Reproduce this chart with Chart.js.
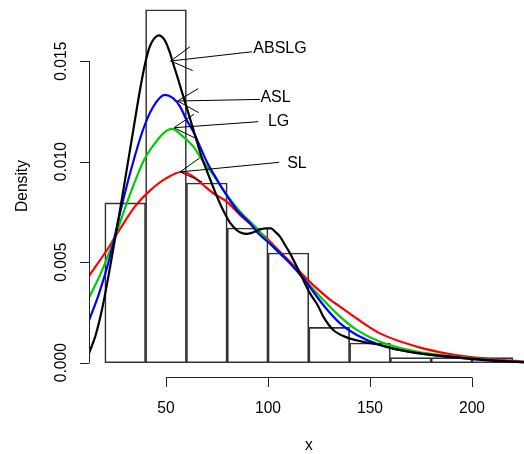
<!DOCTYPE html>
<html>
<head>
<meta charset="utf-8">
<script src="https://cdn.jsdelivr.net/npm/chart.js@4/dist/chart.umd.min.js"></script>
<style>
  html, body { margin: 0; padding: 0; background: #fff; }
  #chart { display: block; }
</style>
</head>
<body>
<canvas id="chart" width="524" height="454"></canvas>
<script>
// Histogram bins (left edges, width 20) and densities
const binLeft = [20, 40, 60, 80, 100, 120, 140, 160, 180, 200];
const binDensity = [0.00795, 0.01756, 0.00894, 0.0067, 0.00546, 0.00176, 0.00098, 0.00025, 0.00025, 0.00025];

// Fitted density curves
const ablsgX = [12.25, 15.54, 18.77, 22.06, 25.34, 28.43, 31.52, 33.97, 37.25, 39.71, 42.16, 44.36, 46.57, 48.28, 49.85, 51.96, 53.58, 55.25, 56.86, 58.48, 60.93, 63.38, 65.05, 67.5, 71.57, 74.85, 78.09, 81.37, 84.66, 87.11, 89.56, 92.01, 94.46, 96.91, 99.36, 101.5, 103.4, 105.88, 108.3, 110.8, 115.7, 120.6, 124.7, 127.1, 132.0, 138.6, 146.7, 154.9, 164.7, 181.0, 197.4, 213.7, 225.5];
const ablsgY = [0.00047, 0.00138, 0.00272, 0.00446, 0.00635, 0.00819, 0.01008, 0.01158, 0.01357, 0.01486, 0.01576, 0.01615, 0.01629, 0.01619, 0.01596, 0.01541, 0.01486, 0.01433, 0.01379, 0.01325, 0.01243, 0.01161, 0.01103, 0.01023, 0.00914, 0.0083, 0.00757, 0.00697, 0.0066, 0.00645, 0.00641, 0.00646, 0.00656, 0.00665, 0.00669, 0.00668, 0.00653, 0.00627, 0.00587, 0.00544, 0.00445, 0.00345, 0.0028, 0.00229, 0.00163, 0.00126, 0.00104, 0.00088, 0.00063, 0.00038, 0.00022, 0.00008, 0.00003];

const aslX = [12.25, 17.2, 22.1, 25.34, 28.6, 33.5, 38.4, 43.3, 49.5, 53.6, 56.9, 60.1, 63.4, 66.7, 70.0, 73.2, 78.1, 84.7, 91.2, 94.5, 102.6, 110.8, 117.3, 127.1, 135.3, 143.5, 154.9, 172.9, 189.2, 205.5, 225.5];
const aslY = [0.0021, 0.00345, 0.00511, 0.0065, 0.00793, 0.00984, 0.01149, 0.01266, 0.01332, 0.01315, 0.01274, 0.01207, 0.01149, 0.01075, 0.01, 0.00942, 0.00859, 0.0076, 0.00694, 0.00652, 0.00577, 0.00495, 0.0042, 0.00287, 0.00196, 0.00138, 0.00088, 0.00047, 0.0003, 0.00013, 0.00003];

const lgX = [12.25, 18.77, 25.34, 30.25, 36.76, 39.7, 44.6, 48.53, 52.8, 58.5, 63.4, 68.3, 73.2, 78.1, 83.0, 87.9, 94.5, 99.4, 105.0, 110.8, 117.3, 127.1, 135.3, 143.5, 154.9, 172.9, 189.2, 205.5, 225.5];
const lgY = [0.00323, 0.00462, 0.00635, 0.00779, 0.00952, 0.01017, 0.01092, 0.0114, 0.01163, 0.01124, 0.01075, 0.01, 0.00934, 0.00859, 0.00793, 0.00735, 0.00669, 0.0061, 0.0055, 0.00495, 0.0042, 0.00312, 0.00229, 0.00163, 0.00104, 0.00055, 0.00033, 0.00017, 0.00002];

const slX = [12.25, 22.1, 28.0, 35.0, 42.0, 50.0, 58.0, 63.4, 68.3, 73.2, 79.8, 86.3, 92.8, 99.4, 102.6, 110.8, 115.7, 120.6, 125.5, 130.4, 135.3, 143.5, 154.9, 172.9, 189.2, 205.5, 225.5];
const slY = [0.00431, 0.00577, 0.00674, 0.0078, 0.00855, 0.00917, 0.0095, 0.00925, 0.00884, 0.00843, 0.00801, 0.00735, 0.00677, 0.00619, 0.00586, 0.00502, 0.00451, 0.00401, 0.00356, 0.00314, 0.00279, 0.0022, 0.00146, 0.0008, 0.00043, 0.00022, 0.00005];

// Axis ticks
const xTicks = [50, 100, 150, 200];
const yTicks = [0, 0.005, 0.01, 0.015];
const yTickLabels = ['0.000', '0.005', '0.010', '0.015'];

// Annotations: label position and arrow (from label to curve)
const noteLabels = ['ABSLG', 'ASL', 'LG', 'SL'];
const noteTextX = [105.9, 103.7, 105.2, 114.2];
const noteTextY = [0.01568, 0.01323, 0.01207, 0.00996];
const arrowFromX = [92.2, 96.1, 95.2, 105.5];
const arrowFromY = [0.01547, 0.0131, 0.01199, 0.00997];
const arrowToX = [52.3, 55.7, 53.9, 56.9];
const arrowToY = [0.01501, 0.01302, 0.01169, 0.00949];

const FONT = '"Liberation Sans", Arial, sans-serif';

function pts(xs, ys) {
    return xs.map((x, i) => ({ x: x, y: ys[i] }));
}

function curve(label, xs, ys, color, order) {
    return {
        type: 'line',
        label: label,
        data: pts(xs, ys),
        borderColor: color,
        borderWidth: 2.2,
        pointRadius: 0,
        fill: false,
        cubicInterpolationMode: 'monotone',
        order: order
    };
}

// Draws R-style axes, labels and the arrow annotations
const rAxes = {
    id: 'rAxes',
    afterDraw(chart) {
        const ctx = chart.ctx;
        const xs = chart.scales.x;
        const ys = chart.scales.y;
        const area = chart.chartArea;
        ctx.save();
        ctx.strokeStyle = '#222';
        ctx.fillStyle = '#000';
        ctx.lineWidth = 1;

        // x axis
        const axY = Math.round(area.bottom) + 0.5;
        ctx.beginPath();
        ctx.moveTo(xs.getPixelForValue(xTicks[0]), axY);
        ctx.lineTo(xs.getPixelForValue(xTicks[xTicks.length - 1]), axY);
        xTicks.forEach(v => {
            const px = Math.round(xs.getPixelForValue(v)) + 0.5;
            ctx.moveTo(px, axY);
            ctx.lineTo(px, axY + 9.5);
        });
        ctx.stroke();
        ctx.font = '15.6px ' + FONT;
        ctx.textAlign = 'center';
        ctx.textBaseline = 'alphabetic';
        xTicks.forEach(v => {
            ctx.fillText(String(v), xs.getPixelForValue(v), 412.5);
        });
        ctx.fillText('x', xs.getPixelForValue(120), 449.5);

        // y axis
        const axX = Math.round(area.left) + 0.5;
        ctx.beginPath();
        ctx.moveTo(axX, ys.getPixelForValue(yTicks[0]));
        ctx.lineTo(axX, ys.getPixelForValue(yTicks[yTicks.length - 1]));
        yTicks.forEach(v => {
            const py = Math.round(ys.getPixelForValue(v)) + 0.5;
            ctx.moveTo(axX, py);
            ctx.lineTo(axX - 9.5, py);
        });
        ctx.stroke();
        yTicks.forEach((v, i) => {
            ctx.save();
            ctx.translate(65.7, ys.getPixelForValue(v));
            ctx.rotate(-Math.PI / 2);
            ctx.fillText(yTickLabels[i], 0, 0);
            ctx.restore();
        });
        ctx.save();
        ctx.translate(26.7, 186);
        ctx.rotate(-Math.PI / 2);
        ctx.fillText('Density', 0, 0);
        ctx.restore();

        // annotations
        ctx.font = '16px ' + FONT;
        ctx.strokeStyle = '#000';
        noteLabels.forEach((lab, i) => {
            ctx.fillText(lab, xs.getPixelForValue(noteTextX[i]), ys.getPixelForValue(noteTextY[i]) + 5.7);
            const x0 = xs.getPixelForValue(arrowFromX[i]);
            const y0 = ys.getPixelForValue(arrowFromY[i]);
            const x1 = xs.getPixelForValue(arrowToX[i]);
            const y1 = ys.getPixelForValue(arrowToY[i]);
            const ang = Math.atan2(y0 - y1, x0 - x1);
            const len = 24, spread = Math.PI / 6;
            ctx.beginPath();
            ctx.moveTo(x0, y0);
            ctx.lineTo(x1, y1);
            ctx.moveTo(x1 + len * Math.cos(ang - spread), y1 + len * Math.sin(ang - spread));
            ctx.lineTo(x1, y1);
            ctx.lineTo(x1 + len * Math.cos(ang + spread), y1 + len * Math.sin(ang + spread));
            ctx.stroke();
        });
        ctx.restore();
    }
};

new Chart(document.getElementById('chart'), {
    type: 'bar',
    data: {
        datasets: [
            curve('ABSLG', ablsgX, ablsgY, '#000000', 1),
            curve('ASL', aslX, aslY, '#0000FF', 2),
            curve('LG', lgX, lgY, '#00CD00', 3),
            curve('SL', slX, slY, '#FF0000', 4),
            {
                type: 'bar',
                label: 'hist',
                data: binLeft.map((b, i) => ({ x: b + 10, y: binDensity[i] })),
                backgroundColor: 'rgba(0,0,0,0)',
                borderColor: '#333',
                borderWidth: 1,
                borderSkipped: false,
                barPercentage: 1,
                categoryPercentage: 1,
                order: 10
            }
        ]
    },
    options: {
        responsive: false,
        animation: false,
        devicePixelRatio: 1,
        layout: { padding: { left: 89, right: 0, top: 0, bottom: 77 } },
        plugins: { legend: { display: false }, tooltip: { enabled: false } },
        scales: {
            x: {
                type: 'linear',
                display: false,
                offset: false,
                min: 12.25,
                max: 225.5,
                afterBuildTicks: (scale) => { scale.ticks = xTicks.map(v => ({ value: v })); }
            },
            y: {
                type: 'linear',
                display: false,
                min: -0.000711,
                max: 0.018045
            }
        }
    },
    plugins: [rAxes]
});
</script>
</body>
</html>
